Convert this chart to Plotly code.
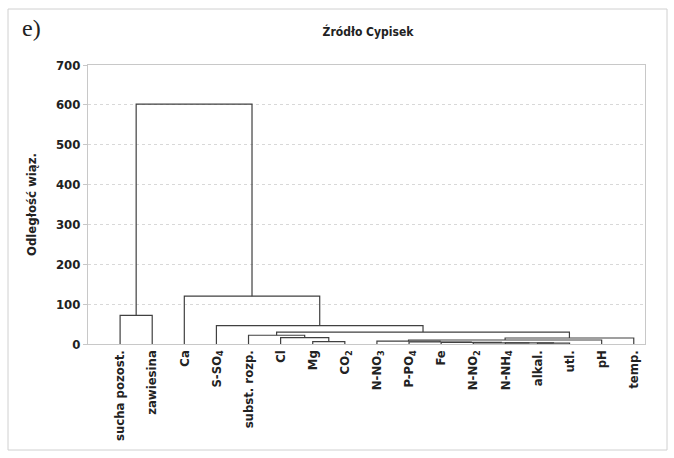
import plotly.graph_objects as go

# Variables in dendrogram leaf order
leaves = [
    "sucha pozost.", "zawiesina", "Ca", "S-SO<sub>4</sub>", "subst. rozp.",
    "Cl", "Mg", "CO<sub>2</sub>", "N-NO<sub>3</sub>", "P-PO<sub>4</sub>", "Fe",
    "N-NO<sub>2</sub>", "N-NH<sub>4</sub>", "alkal.", "utl.", "pH", "temp.",
]

# Agglomeration steps: ids < len(leaves) are leaves, higher ids are earlier merges
merge_left = [6, 5, 4, 13, 12, 11, 10, 9, 8, 25, 26, 19, 3, 2, 0, 31]
merge_right = [7, 17, 18, 14, 20, 21, 22, 23, 24, 15, 16, 27, 28, 29, 1, 30]
merge_dist = [6, 16, 22, 2, 3, 3, 4, 5, 7, 10, 15, 30, 46, 120, 72, 602]

y_ticks = [0, 100, 200, 300, 400, 500, 600, 700]

n = len(leaves)
pos = {i: i + 1 for i in range(n)}
height = {i: 0 for i in range(n)}
xs, ys = [], []
for k, (a, b, d) in enumerate(zip(merge_left, merge_right, merge_dist)):
    node = n + k
    xa, xb = pos[a], pos[b]
    xs += [xa, xa, xb, xb, None]
    ys += [height[a], d, d, height[b], None]
    pos[node] = (xa + xb) / 2
    height[node] = d

FONT = "Liberation Sans Narrow, DejaVu Sans Condensed, Arial Narrow, sans-serif"
INK = "#222222"

fig = go.Figure()
fig.add_trace(go.Scatter(
    x=xs, y=ys, mode="lines",
    line=dict(color="#404040", width=1.2),
    hoverinfo="skip", showlegend=False,
))

fig.update_layout(
    width=674, height=458,
    margin=dict(l=88, r=29, t=65, b=114),
    paper_bgcolor="white", plot_bgcolor="white",
    font=dict(family=FONT, color=INK, size=12),
    title=dict(
        text="<b>Źródło Cypisek</b>", x=368 / 674, xanchor="center",
        y=1 - 32 / 458, yanchor="middle",
        font=dict(family=FONT, size=12, color=INK),
    ),
    xaxis=dict(
        range=[0, n + 0.35],
        tickmode="array", tickvals=list(range(1, n + 1)),
        ticktext=["<b>%s</b>" % t for t in leaves],
        tickangle=-90, ticks="", showgrid=False, zeroline=False,
        showline=True, linecolor="#c8c8c8", linewidth=1, mirror=True,
        tickfont=dict(family=FONT, size=13, color=INK),
    ),
    yaxis=dict(
        range=[0, 700], tickmode="array", tickvals=y_ticks,
        ticktext=["<b>%d</b>" % v for v in y_ticks],
        showgrid=True, gridcolor="#d8d8d8", griddash="dot", gridwidth=1,
        zeroline=False, showline=True, linecolor="#c8c8c8", linewidth=1,
        mirror=True, ticks="outside", ticklen=4, tickcolor="#c8c8c8",
        tickfont=dict(family=FONT, size=13, color=INK),
        title=dict(text="<b>Odległość wiąz.</b>", standoff=16,
                   font=dict(family=FONT, size=13, color=INK)),
    ),
    shapes=[dict(
        type="rect", xref="paper", yref="paper",
        x0=-80 / 557, x1=1 + 22 / 557, y0=-106 / 279, y1=1 + 56 / 279,
        line=dict(color="#d0d0d0", width=1),
    )],
    annotations=[dict(
        text="e)", xref="paper", yref="paper",
        x=-57 / 557, y=1 + 37 / 279, xanchor="center", yanchor="middle",
        showarrow=False,
        font=dict(family="Liberation Serif, DejaVu Serif, serif", size=24, color=INK),
    )],
)

fig.write_html("out.html")
